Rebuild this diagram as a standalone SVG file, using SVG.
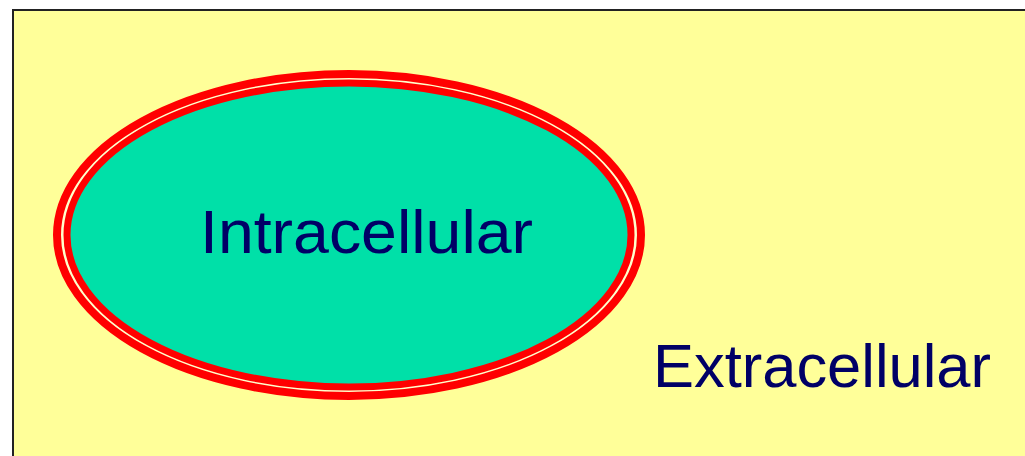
<svg xmlns="http://www.w3.org/2000/svg" width="1025" height="456" viewBox="0 0 1025 456">
<style>
.lbl{font-family:"Liberation Sans","DejaVu Sans",sans-serif;font-size:62px;fill:#000066}
</style>
<rect width="1025" height="456" fill="#ffffff"/>
<g id="extracellular">
<rect x="13" y="10" width="1020" height="460" fill="#ffff99" stroke="#222" stroke-width="2"/>
<text class="lbl" x="653" y="387" textLength="338" lengthAdjust="spacingAndGlyphs">Extracellular</text>
</g>
<g id="intracellular">
<ellipse cx="349" cy="235" rx="292" ry="161" fill="#ffffcc" stroke="#ff0000" stroke-width="8"/>
<ellipse cx="349" cy="235" rx="282" ry="152" fill="#00e0a8" stroke="#ff0000" stroke-width="7"/>
<text class="lbl" x="200" y="253" textLength="333" lengthAdjust="spacingAndGlyphs">Intracellular</text>
</g>
</svg>
